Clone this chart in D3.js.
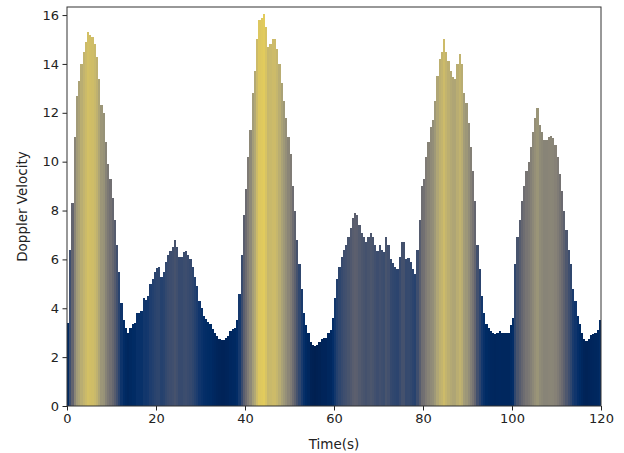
<!DOCTYPE html>
<html>
<head>
<meta charset="utf-8">
<script src="https://cdn.jsdelivr.net/npm/d3@7"></script>
<style>
  html, body { margin: 0; padding: 0; background: #fff; }
  svg { display: block; }
  text { font-family: "DejaVu Sans", sans-serif; fill: #222; }
</style>
</head>
<body>
<svg id="chart" width="624" height="453"></svg>
<script>
// Time step (s) of each bar
const timeStep = 0.5;
// Doppler velocity per 0.5 s bin, starting at t = 0
const velocity = [
  3.4, 6.4, 8.3, 11.0, 12.7, 13.3, 14.0, 14.5, 14.9, 15.3,
  15.2, 15.1, 14.8, 14.3, 13.4, 12.3, 12.0, 10.8, 9.9, 9.3,
  8.5, 7.6, 6.6, 5.5, 4.2, 3.5, 3.2, 3.0, 3.2, 3.35,
  3.4, 3.8, 3.8, 3.9, 4.4, 4.35, 4.5, 5.0, 5.2, 5.5,
  5.65, 5.7, 5.3, 5.5, 5.9, 6.2, 6.35, 6.5, 6.8, 6.5,
  6.1, 6.1, 6.3, 6.35, 6.2, 6.0, 5.7, 5.3, 4.9, 4.3,
  4.0, 3.7, 3.55, 3.45, 3.35, 3.15, 3.0, 2.85, 2.75, 2.7,
  2.7, 2.8, 2.85, 3.05, 3.15, 3.2, 3.5, 4.6, 6.2, 7.8,
  8.9, 10.2, 11.3, 12.8, 13.7, 15.0, 15.8, 15.9, 16.05, 15.5,
  14.7, 14.8, 15.0, 15.0, 14.6, 14.0, 13.2, 12.5, 11.8, 11.0,
  10.3, 9.0, 8.0, 6.8, 5.8, 4.8, 3.8, 3.3, 3.0, 2.6,
  2.5, 2.45, 2.5, 2.6, 2.75, 2.8, 2.8, 3.0, 3.1, 3.6,
  4.4, 5.2, 5.7, 6.1, 6.4, 6.6, 6.9, 7.3, 7.7, 7.9,
  7.8, 7.4, 7.1, 6.9, 6.7, 6.9, 7.1, 6.9, 6.6, 6.35,
  6.6, 6.4, 6.3, 6.9, 6.6, 6.0, 5.85, 5.7, 5.6, 6.1,
  6.7, 6.7, 6.0, 6.05, 5.9, 5.6, 5.4, 6.4, 7.6, 9.0,
  9.3, 10.2, 10.8, 11.4, 11.7, 12.5, 13.5, 14.2, 14.5, 15.0,
  14.5, 14.1, 13.7, 13.45, 13.4, 14.0, 14.4, 14.0, 12.8, 12.4,
  11.6, 10.6, 9.6, 8.4, 6.6, 5.6, 4.5, 3.8, 3.35, 3.2,
  3.05, 3.0, 2.95, 3.0, 3.05, 3.0, 3.0, 3.0, 3.0, 3.3,
  3.6, 5.8, 6.9, 7.6, 8.4, 9.0, 9.6, 10.0, 10.6, 11.2,
  11.8, 12.2, 11.5, 11.2, 10.9, 10.9, 11.0, 11.05, 10.95, 10.7,
  10.2, 9.5, 8.8, 8.0, 7.2, 6.4, 5.8, 4.8, 4.3, 3.7,
  3.35, 3.0, 2.75, 2.65, 2.75, 2.9, 2.95, 3.0, 3.1, 3.5
];
const times = velocity.map((_, i) => i * timeStep);
const xTicks = [0, 20, 40, 60, 80, 100, 120];
const yTicks = [0, 2, 4, 6, 8, 10, 12, 14, 16];
const xLabel = "Time(s)";
const yLabel = "Doppler Velocity";
const colorMax = 18; // upper end of the colour normalisation

const margin = { left: 67, right: 23, top: 7, bottom: 47 };
const W = 624, H = 453;
const yTop = 16.33;
const svg = d3.select("#chart");

const x = d3.scaleLinear().domain([0, 120]).range([margin.left, W - margin.right]);
const y = d3.scaleLinear().domain([0, yTop]).range([H - margin.bottom, margin.top]);
const color = d3.scaleSequential(d3.interpolateCividis)
  .domain([d3.min(velocity), colorMax]);

const x0 = (i) => Math.round(x(times[i]));
const x1 = (i) => Math.round(x(times[i] + timeStep));

svg.append("g").selectAll("rect.bar")
  .data(velocity)
  .join("rect")
  .attr("class", "bar")
  .attr("x", (d, i) => x0(i))
  .attr("width", (d, i) => x1(i) - x0(i))
  .attr("y", d => Math.round(y(d)))
  .attr("height", d => y(0) - Math.round(y(d)))
  .attr("fill", d => color(d))
  .attr("shape-rendering", "crispEdges");

// Axes
const xAxis = d3.axisBottom(x).tickValues(xTicks).tickSize(4.5).tickPadding(3.5).tickFormat(d3.format("d"));
const yAxis = d3.axisLeft(y).tickValues(yTicks).tickSize(4.5).tickPadding(3.5).tickFormat(d3.format("d"));

const gx = svg.append("g").attr("transform", `translate(0,${y(0)})`).call(xAxis);
const gy = svg.append("g").attr("transform", `translate(${margin.left},0)`).call(yAxis);
[gx, gy].forEach(a => {
  a.select(".domain").remove();
  a.selectAll(".tick line").attr("stroke", "#222").attr("stroke-width", 1);
  a.selectAll(".tick text").style("font-size", "13px").style("font-family", "DejaVu Sans").attr("fill", "#222");
});

// Frame
svg.append("rect")
  .attr("x", x(0)).attr("y", y(yTop))
  .attr("width", x(120) - x(0)).attr("height", y(0) - y(yTop))
  .attr("fill", "none").attr("stroke", "#333").attr("stroke-width", 1);

svg.append("text")
  .attr("x", (x(0) + x(120)) / 2).attr("y", 449)
  .attr("text-anchor", "middle").style("font-size", "13.5px")
  .text(xLabel);

svg.append("text")
  .attr("transform", `translate(27,${(y(0) + y(yTop)) / 2}) rotate(-90)`)
  .attr("text-anchor", "middle").style("font-size", "13.5px")
  .text(yLabel);
</script>
</body>
</html>
